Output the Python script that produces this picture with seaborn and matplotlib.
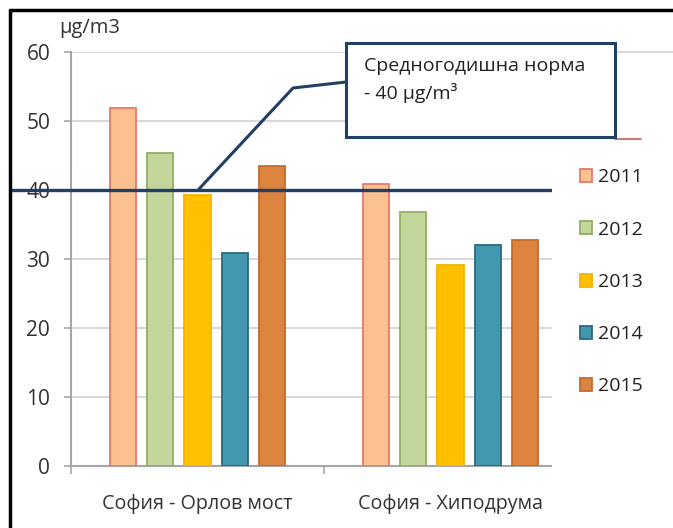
import matplotlib
matplotlib.use("Agg")
import matplotlib.pyplot as plt
from matplotlib.lines import Line2D
from matplotlib.patches import Rectangle, Patch
import seaborn as sns
import pandas as pd

# ---- data ----
stations = ["София - Орлов мост", "София - Хиподрума"]
years = ["2011", "2012", "2013", "2014", "2015"]
values_2011 = [51.9, 40.9]
values_2012 = [45.4, 36.8]
values_2013 = [39.3, 29.1]
values_2014 = [30.9, 32.0]
values_2015 = [43.5, 32.8]
norm_value = 40
y_ticks = [0, 10, 20, 30, 40, 50, 60]
y_unit = "µg/m3"
note_text = "Средногодишна норма\n- 40 µg/m³"

fill_colors = ["#FAC08F", "#C3D69B", "#FFC000", "#4198AF", "#DB843D"]
edge_colors = ["#E8776A", "#93AE62", "#F2B400", "#2A6A80", "#C56C2C"]

series = [values_2011, values_2012, values_2013, values_2014, values_2015]
rows = []
for yr, vals in zip(years, series):
    for st, v in zip(stations, vals):
        rows.append({"station": st, "year": yr, "value": v})
df = pd.DataFrame(rows)

sns.set_theme(style="white")
plt.rcParams["font.family"] = ["Open Sans", "DejaVu Sans"]

W, H = 673, 528
fig = plt.figure(figsize=(W / 100, H / 100), dpi=100)
fig.patch.set_facecolor("white")

def fx(px):
    return px / W

def fy(py):
    return (H - py) / H

ax_left, ax_right, ax_top, ax_bottom = 71, 577, 52, 466
ax = fig.add_axes([fx(ax_left), fy(ax_bottom), fx(ax_right - ax_left), (ax_bottom - ax_top) / H])
ax.set_zorder(0)

sns.barplot(data=df, x="station", y="value", hue="year", hue_order=years,
            order=stations, palette=fill_colors, saturation=1, width=0.735, gap=0.3,
            legend=False, ax=ax, zorder=3)
for cont, ec in zip(ax.containers, edge_colors):
    for bar in cont:
        bar.set_edgecolor(ec)
        bar.set_linewidth(1.3)

ax.set_ylim(0, 60)
ax.set_xlim(-0.5, 1.5)
ax.set_yticks(y_ticks)
ax.set_xlabel("")
ax.set_ylabel("")
ax.yaxis.grid(True, color="#D9D9D9", linewidth=1.5, zorder=0)
ax.set_axisbelow(True)
for s in ["top", "right"]:
    ax.spines[s].set_visible(False)
for s in ["left", "bottom"]:
    ax.spines[s].set_color("#A6A6A6")
    ax.spines[s].set_linewidth(1.5)
ax.tick_params(axis="y", which="both", left=True, length=5, width=1.2,
               color="#A6A6A6", labelsize=15, labelcolor="#333333", pad=10)
ax.set_xticks([0, 1])
ax.set_xticklabels(stations)
ax.set_xticks([-0.5, 0.5, 1.5], minor=True)
ax.tick_params(axis="x", which="major", bottom=False, labelsize=14.2,
               labelcolor="#333333", pad=14)
ax.tick_params(axis="x", which="minor", bottom=True, length=6, width=1.2,
               color="#A6A6A6")

# norm line
ax.axhline(norm_value, xmin=(10 - ax_left) / (ax_right - ax_left), xmax=1,
           color="#223F66", linewidth=2.4, clip_on=False, zorder=4)

# white area behind legend (covers right part of plot)
fig.add_artist(Rectangle((fx(552), 0), 1 - fx(552), fy(139), transform=fig.transFigure,
                         facecolor="white", edgecolor="none", zorder=2))
# top gridline continues to the right edge
fig.add_artist(Line2D([fx(ax_right), 1], [fy(ax_top), fy(ax_top)], transform=fig.transFigure,
                      color="#D9D9D9", linewidth=1.5, zorder=1))
# stray red tick above legend
fig.add_artist(Line2D([fx(615), fx(641)], [fy(138.5), fy(138.5)], transform=fig.transFigure,
                      color="#E06666", linewidth=1.3, zorder=3))

# unit label
fig.text(fx(59), fy(28), y_unit, ha="left", va="center", fontsize=14.5, color="#333333")

# callout leader line
fig.add_artist(Line2D([fx(199), fx(293), fx(346)], [fy(189), fy(88), fy(82)],
                      transform=fig.transFigure, color="#223F66", linewidth=2.2, zorder=5))
# callout box
fig.add_artist(Rectangle((fx(346), fy(137)), fx(615 - 346), (137 - 43) / H,
                         transform=fig.transFigure, facecolor="white",
                         edgecolor="#223F66", linewidth=2.2, zorder=6))
fig.text(fx(364), fy(80), note_text, ha="left", va="center", fontsize=14,
         color="#222222", linespacing=1.45, zorder=7)

# legend
handles = [Patch(facecolor=fc, edgecolor=ec, linewidth=1.3) for fc, ec in zip(fill_colors, edge_colors)]
leg = fig.legend(handles, years, loc="upper left", bbox_to_anchor=(fx(562), fy(151)),
                 frameon=False, fontsize=14, handlelength=0.65, handleheight=0.65,
                 handletextpad=0.3, labelspacing=1.76, labelcolor="#222222")
leg.set_zorder(8)

# outer border lines (left and top)
fig.add_artist(Line2D([fx(10), fx(10)], [0, fy(10)], transform=fig.transFigure,
                      color="black", linewidth=2.5, zorder=10))
fig.add_artist(Line2D([fx(10), 1], [fy(10), fy(10)], transform=fig.transFigure,
                      color="black", linewidth=2.5, zorder=10))

fig.savefig("out.png", dpi=100)
